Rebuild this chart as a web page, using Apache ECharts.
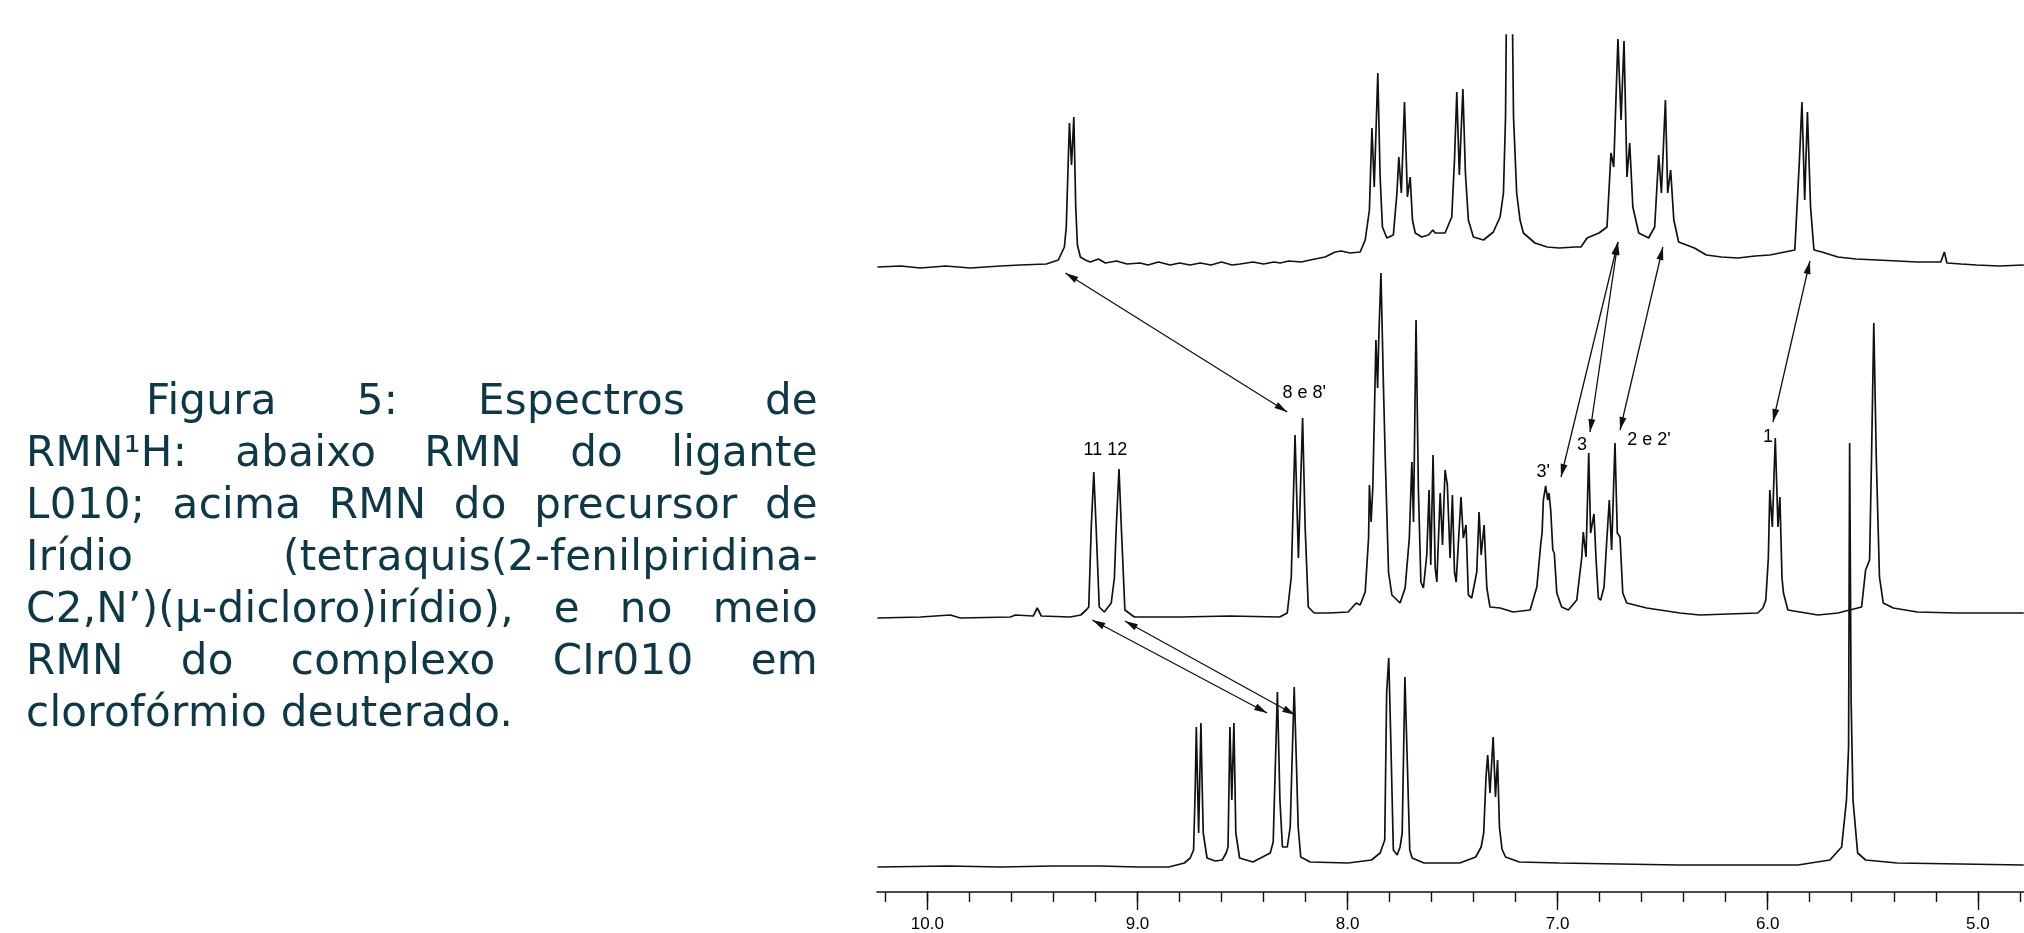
<!DOCTYPE html>
<html>
<head>
<meta charset="utf-8">
<script src="https://cdn.jsdelivr.net/npm/echarts@6/dist/echarts.min.js"></script>
<style>
html, body { margin: 0; padding: 0; background: #ffffff; }
#chart { position: absolute; left: 0; top: 0; width: 2024px; height: 933px; }
#caption {
  position: absolute; left: 26px; top: 374px; width: 792px; z-index: 2;
  font-family: 'DejaVu Sans', Verdana, sans-serif; font-size: 42px; line-height: 52px;
  letter-spacing: 0.3px; color: #0c3848;
}
#caption .j { text-align: justify; text-align-last: justify; }
#caption .first { padding-left: 120px; }
#caption .last { text-align: left; }
</style>
</head>
<body>
<div id="chart"></div>
<div id="caption">
  <div class="j first">Figura 5: Espectros de</div>
  <div class="j">RMN¹H: abaixo RMN do ligante</div>
  <div class="j">L010; acima RMN do precursor de</div>
  <div class="j">Irídio (tetraquis(2-fenilpiridina-</div>
  <div class="j">C2,N’)(µ-dicloro)irídio), e no meio</div>
  <div class="j">RMN do complexo CIr010 em</div>
  <div class="last">clorofórmio deuterado.</div>
</div>
<script>
// ---- axis ticks (ppm) ----
const majorTicks = { min: 5, max: 10, interval: 1 };       // labelled ticks 5.0 … 10.0
const minorTicks = { min: 4.8, max: 10.2, interval: 0.2 }; // small ticks every 0.2 ppm

// ---- spectra: [ppm, intensity] (intensity in arbitrary units above each baseline) ----
// top: precursor de irídio
const precursorSpectrum = [
  [10.238,0],[10.128,1],[10.033,-1],[9.914,1],[9.795,-1],[9.653,1],[9.558,2],[9.434,3],[9.377,7],
  [9.348,20],[9.339,40],[9.329,110],[9.324,144],[9.314,102],[9.303,150],[9.294,60],[9.286,22],
  [9.272,10],[9.248,7],[9.225,5],[9.186,8],[9.153,4],[9.10,6],[9.05,3],[8.987,4],[8.95,2],[8.90,5],
  [8.844,2],[8.80,4],[8.75,2],[8.701,4],[8.65,2],[8.60,5],[8.55,2],[8.511,3],[8.45,5],[8.40,3],
  [8.35,5],[8.321,4],[8.28,6],[8.22,5],[8.178,7],[8.107,10],[8.059,15],[8.030,16],[7.988,14],
  [7.940,15],[7.916,27],[7.896,57],[7.884,139],[7.873,80],[7.856,194],[7.845,90],[7.834,40],
  [7.813,29],[7.782,32],[7.765,74],[7.756,110],[7.744,74],[7.729,165],[7.715,70],[7.702,90],
  [7.691,47],[7.678,34],[7.647,30],[7.615,32],[7.594,37],[7.583,34],[7.536,34],[7.504,50],
  [7.491,107],[7.480,175],[7.468,92],[7.451,178],[7.439,94],[7.425,47],[7.401,30],[7.353,27],
  [7.306,35],[7.274,50],[7.258,74],[7.248,150],[7.242,300],[7.218,300],[7.210,150],[7.195,74],
  [7.179,47],[7.163,34],[7.108,24],[7.05,20],[6.993,19],[6.917,20],[6.889,20],[6.860,29],
  [6.803,34],[6.765,40],[6.746,114],[6.733,100],[6.713,228],[6.698,147],[6.684,226],[6.670,90],
  [6.657,124],[6.642,60],[6.614,34],[6.567,29],[6.538,40],[6.519,112],[6.506,74],[6.487,167],
  [6.476,74],[6.462,97],[6.447,47],[6.424,25],[6.349,19],[6.292,12],[6.22,10],[6.142,9],
  [6.06,11],[5.990,12],[5.871,17],[5.849,107],[5.837,165],[5.824,67],[5.811,155],[5.796,60],
  [5.780,17],[5.742,15],[5.666,10],[5.58,8],[5.478,7],[5.38,6],[5.290,5],[5.176,5],[5.159,15],
  [5.147,4],[5.08,3],[5.005,2],[4.90,1],[4.781,2]
];
// middle: complexo CIr010
const complexSpectrum = [
  [10.238,0],[10.033,1],[9.891,3],[9.843,0],[9.605,1],[9.581,3],[9.496,2],[9.477,10],[9.458,2],
  [9.320,1],[9.270,3],[9.244,8],[9.232,11],[9.220,91],[9.208,146],[9.197,91],[9.182,11],
  [9.158,6],[9.125,15],[9.110,40],[9.101,91],[9.088,149],[9.077,91],[9.060,8],[9.015,1],
  [8.796,1],[8.559,2],[8.323,1],[8.287,5],[8.268,41],[8.250,183],[8.234,60],[8.214,200],
  [8.202,91],[8.187,11],[8.159,5],[8.087,5],[7.997,6],[7.959,15],[7.940,13],[7.916,26],
  [7.900,80],[7.896,133],[7.888,96],[7.880,130],[7.873,196],[7.865,278],[7.857,230],[7.851,283],
  [7.841,345],[7.835,345],[7.829,230],[7.821,163],[7.805,46],[7.789,23],[7.750,15],[7.726,30],
  [7.706,80],[7.694,156],[7.686,96],[7.674,298],[7.663,130],[7.651,36],[7.639,30],[7.623,63],
  [7.612,128],[7.604,53],[7.593,163],[7.583,50],[7.575,36],[7.559,125],[7.548,73],[7.536,148],
  [7.525,133],[7.512,60],[7.501,123],[7.491,46],[7.483,36],[7.460,121],[7.449,80],[7.436,93],
  [7.425,23],[7.409,20],[7.385,46],[7.374,106],[7.364,63],[7.350,93],[7.337,30],[7.322,11],
  [7.274,10],[7.212,6],[7.131,8],[7.099,31],[7.080,75],[7.074,85],[7.068,118],[7.057,132],
  [7.047,118],[7.041,125],[7.033,108],[7.023,68],[7.016,65],[7.004,25],[6.981,11],[6.949,8],
  [6.909,18],[6.885,61],[6.878,86],[6.865,61],[6.852,165],[6.843,85],[6.827,104],[6.817,58],
  [6.806,20],[6.795,18],[6.779,31],[6.766,78],[6.754,118],[6.743,68],[6.727,175],[6.716,85],
  [6.703,81],[6.690,25],[6.671,15],[6.576,10],[6.418,5],[6.323,3],[6.047,5],[6.023,10],
  [6.009,18],[5.997,60],[5.990,128],[5.978,91],[5.964,180],[5.951,91],[5.942,121],[5.932,40],
  [5.925,25],[5.904,8],[5.761,3],[5.666,5],[5.553,11],[5.534,48],[5.515,58],[5.506,158],
  [5.495,295],[5.483,158],[5.468,41],[5.450,15],[5.402,10],[5.288,6],[5.100,5],[4.781,5]
];
// bottom: ligante L010
const ligandSpectrum = [
  [10.238,0],[9.9,1],[9.653,0],[9.4,1],[9.177,1],[9.0,0],[8.851,0],[8.777,4],[8.749,9],
  [8.733,17],[8.725,80],[8.720,140],[8.709,34],[8.698,144],[8.692,80],[8.687,34],[8.669,9],
  [8.630,6],[8.597,7],[8.578,14],[8.569,20],[8.563,100],[8.560,140],[8.551,67],[8.541,144],
  [8.532,34],[8.514,9],[8.451,5],[8.368,14],[8.354,25],[8.344,100],[8.334,175],[8.322,67],
  [8.310,20],[8.287,20],[8.273,40],[8.265,100],[8.254,180],[8.243,100],[8.235,40],[8.223,10],
  [8.178,5],[7.997,4],[7.886,7],[7.845,14],[7.823,27],[7.814,174],[7.804,209],[7.795,134],
  [7.782,17],[7.764,12],[7.750,20],[7.740,34],[7.727,190],[7.715,100],[7.704,17],[7.693,9],
  [7.636,4],[7.466,4],[7.390,10],[7.364,20],[7.352,34],[7.341,90],[7.333,112],[7.322,74],
  [7.307,130],[7.296,70],[7.286,107],[7.277,40],[7.265,18],[7.248,10],[7.182,5],[6.993,4],
  [6.424,2],[5.856,2],[5.704,7],[5.648,20],[5.625,67],[5.615,120],[5.610,424],[5.603,167],
  [5.594,67],[5.572,14],[5.534,7],[5.383,4],[4.781,2]
];

// ---- annotations ----
// arrows between precursor (top) and complex (middle): [ppm1, h1, ppm2, h2], middle-spectrum units
const precursorArrows = [
  [9.343, 345, 8.287, 206],
  [6.713, 376, 6.984, 141],
  [6.713, 376, 6.846, 186],
  [6.499, 371, 6.703, 188],
  [5.799, 357, 5.975, 196]
];
// arrows between complex (middle) and ligand (bottom): bottom-spectrum units
const ligandArrows = [
  [9.215, 247, 8.383, 154],
  [9.060, 246, 8.249, 152]
];
// peak labels on the middle spectrum: [ppm, h]
const peakLabelText = ["8 e 8'", "11 12", "3'", "3", "2 e 2'", "1"];
const peakLabelPos = [[8.206, 225], [9.153, 168], [7.069, 146], [6.884, 173], [6.565, 178], [5.999, 181]];

// ---- layout ----
const X_MIN = 4.78, X_MAX = 10.24;
const PLOT_LEFT = 877, PLOT_WIDTH = 1147;
const PX_PER_PPM = PLOT_WIDTH / (X_MAX - X_MIN);
const PLOT_TOP = 35;
const baselines = [267, 618, 867];   // pixel baselines of the three spectra
const AXIS_Y = 892;
const PAD = 10;

const chart = echarts.init(document.getElementById('chart'), null, { renderer: 'canvas' });

const specGrids = baselines.map(b => ({ left: PLOT_LEFT, width: PLOT_WIDTH, top: PLOT_TOP, height: (b - PLOT_TOP) + PAD }));
// tick grids: their x extent is exactly [max … min] of their tick range, so min is a multiple of interval
const tickGrid = t => ({ left: PLOT_LEFT + (X_MAX - t.max) * PX_PER_PPM, width: (t.max - t.min) * PX_PER_PPM,
                         top: PLOT_TOP, height: AXIS_Y - PLOT_TOP });
const grids = specGrids.concat([tickGrid(minorTicks), tickGrid(majorTicks)]);

const yAxes = baselines.map((b, i) => ({ type: 'value', gridIndex: i, min: -PAD, max: b - PLOT_TOP, show: false }))
  .concat([{ type: 'value', gridIndex: 3, min: 0, max: 1, show: false },
           { type: 'value', gridIndex: 4, min: 0, max: 1, show: false }]);
const hiddenX = i => ({ type: 'value', gridIndex: i, min: X_MIN, max: X_MAX, inverse: true, show: false });

const INK = '#111111';
const FONT = '"Liberation Sans", Arial, sans-serif';
const lineSeries = (data, i) => ({
  type: 'line', data: data, xAxisIndex: i, yAxisIndex: i, showSymbol: false, symbol: 'none',
  smooth: false, silent: true, animation: false, clip: true,
  lineStyle: { color: INK, width: 1.7 }
});

function arrowItem(params, api) {
  const p1 = api.coord([api.value(0), api.value(1)]);
  const p2 = api.coord([api.value(2), api.value(3)]);
  const head = (tip, from) => {
    const dx = tip[0] - from[0], dy = tip[1] - from[1];
    const L = Math.hypot(dx, dy), ux = dx / L, uy = dy / L;
    const len = 13, hw = 3.5;
    const bx = tip[0] - ux * len, by = tip[1] - uy * len;
    return { type: 'polygon', shape: { points: [tip, [bx - uy * hw, by + ux * hw], [bx + uy * hw, by - ux * hw]] },
             style: { fill: INK } };
  };
  return { type: 'group', children: [
    { type: 'line', shape: { x1: p1[0], y1: p1[1], x2: p2[0], y2: p2[1] }, style: { stroke: INK, lineWidth: 1.3 } },
    head(p1, p2), head(p2, p1)
  ] };
}

const option = {
  backgroundColor: 'transparent',
  animation: false,
  grid: grids,
  xAxis: [
    hiddenX(0), hiddenX(1),
    { // visible axis line under the bottom spectrum
      type: 'value', gridIndex: 2, min: X_MIN, max: X_MAX, inverse: true, position: 'bottom',
      offset: AXIS_Y - (baselines[2] + PAD),
      axisLine: { show: true, onZero: false, lineStyle: { color: INK, width: 1.6 } },
      axisTick: { show: false }, axisLabel: { show: false }, splitLine: { show: false }
    },
    { // minor ticks
      type: 'value', gridIndex: 3, min: minorTicks.min, max: minorTicks.max, interval: minorTicks.interval,
      inverse: true, position: 'bottom',
      axisLine: { show: false, onZero: false },
      axisTick: { show: true, length: 10, lineStyle: { color: INK, width: 1.4 } },
      axisLabel: { show: false }, splitLine: { show: false }
    },
    { // major ticks + labels
      type: 'value', gridIndex: 4, min: majorTicks.min, max: majorTicks.max, interval: majorTicks.interval,
      inverse: true, position: 'bottom',
      axisLine: { show: false, onZero: false },
      axisTick: { show: true, length: 19, lineStyle: { color: INK, width: 1.4 } },
      axisLabel: { show: true, margin: 25, color: '#000', fontSize: 17, fontFamily: FONT,
                   formatter: v => Number(v).toFixed(1) },
      splitLine: { show: false }
    }
  ],
  yAxis: yAxes,
  series: [
    lineSeries(precursorSpectrum, 0),
    lineSeries(complexSpectrum, 1),
    lineSeries(ligandSpectrum, 2),
    { type: 'custom', xAxisIndex: 1, yAxisIndex: 1, data: precursorArrows, renderItem: arrowItem,
      encode: { x: [0, 2], y: [1, 3] }, silent: true, clip: false },
    { type: 'custom', xAxisIndex: 2, yAxisIndex: 2, data: ligandArrows, renderItem: arrowItem,
      encode: { x: [0, 2], y: [1, 3] }, silent: true, clip: false },
    { type: 'custom', xAxisIndex: 1, yAxisIndex: 1, data: peakLabelPos, silent: true, clip: false,
      renderItem: (params, api) => {
        const p = api.coord([api.value(0), api.value(1)]);
        return { type: 'text', x: p[0], y: p[1],
                 style: { text: peakLabelText[params.dataIndex], fill: '#000', font: '18px ' + FONT,
                          align: 'center', verticalAlign: 'middle' } };
      } }
  ]
};
chart.setOption(option);
</script>
</body>
</html>
